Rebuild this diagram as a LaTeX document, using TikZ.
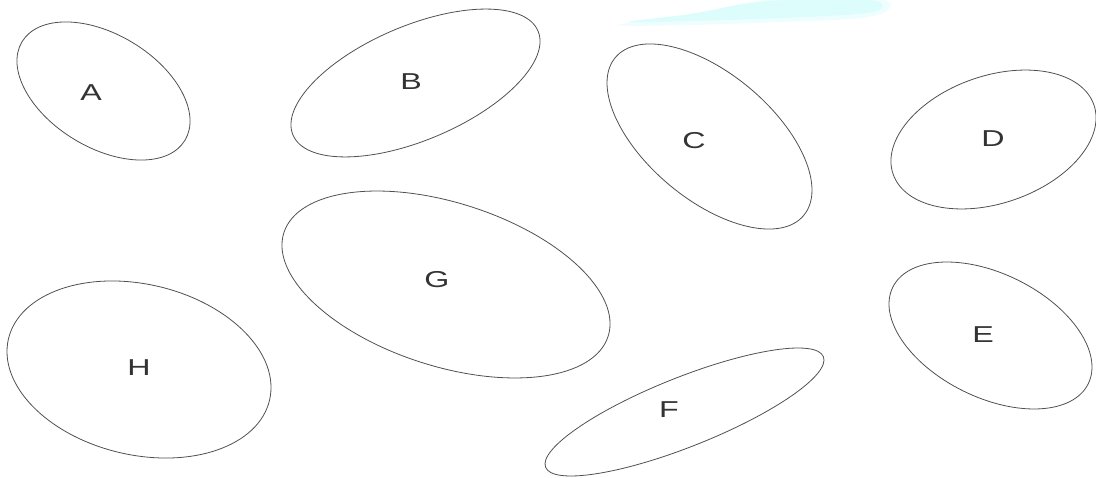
\documentclass[tikz,border=0pt]{standalone}
\usepackage{fontspec}
\setmainfont{Liberation Sans}
\definecolor{blobline}{HTML}{505050}
\definecolor{labeltext}{HTML}{333333}
\definecolor{wisp}{HTML}{DDFCFC}
\definecolor{wispedge}{HTML}{EEFEFE}
\begin{document}
\begin{tikzpicture}[x=1pt,y=-1pt,
  blob/.style={draw=blobline,line width=0.8pt},
  lbl/.style={text=labeltext,font=\fontsize{23}{26}\selectfont,inner sep=0pt,xscale=1.4,transform shape}]
\useasboundingbox (0,0) rectangle (1096,478);
% faint cyan wisp at top
\fill[wispedge] plot[smooth cycle,tension=0.6] coordinates{(618,25) (690,15) (745,3) (790,-2) (875,-2) (890,8) (862,18) (780,22) (690,25)};
\fill[wisp] plot[smooth cycle,tension=0.6] coordinates{(628,22) (690,14) (745,4) (790,0) (868,0) (882,8) (858,14) (780,18) (690,21)};
% ellipses
\draw[blob,rotate around={-31.2:(103.5,91)}] (103.5,91) ellipse [x radius=95.2pt, y radius=56.5pt];
\draw[blob,rotate around={23.0:(415.5,83)}] (415.5,83) ellipse [x radius=133.1pt, y radius=57.1pt];
\draw[blob,rotate around={-40.0:(709.5,136.5)}] (709.5,136.5) ellipse [x radius=122.9pt, y radius=62.9pt];
\draw[blob,rotate around={19.0:(993.5,139.5)}] (993.5,139.5) ellipse [x radius=106.2pt, y radius=63.7pt];
\draw[blob,rotate around={-26.3:(990.5,335.5)}] (990.5,335.5) ellipse [x radius=109pt, y radius=61.8pt];
\draw[blob,rotate around={21.7:(684.5,412)}] (684.5,412) ellipse [x radius=149.5pt, y radius=34.7pt];
\draw[blob,rotate around={-17.7:(446,284.5)}] (446,284.5) ellipse [x radius=170.2pt, y radius=81.7pt];
\draw[blob,rotate around={-13.2:(139,369.5)}] (139,369.5) ellipse [x radius=134.1pt, y radius=85.3pt];
% labels
\node[lbl] (A) at (91,93) {A};
\node[lbl] (B) at (411,82) {B};
\node[lbl] (C) at (694,141) {C};
\node[lbl] (D) at (993,139) {D};
\node[lbl] (E) at (983,335) {E};
\node[lbl] (F) at (669,410) {F};
\node[lbl] (G) at (437,280) {G};
\node[lbl] (H) at (139,368) {H};
\end{tikzpicture}
\end{document}
